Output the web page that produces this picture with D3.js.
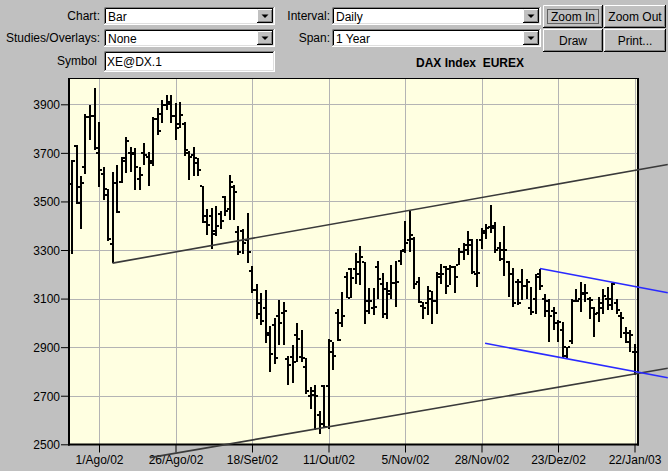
<!DOCTYPE html>
<html><head><meta charset="utf-8">
<script src="https://cdn.jsdelivr.net/npm/d3@7/dist/d3.min.js"></script>
<style>
html,body{margin:0;padding:0;background:#c0c0c0;}
svg{display:block;font-family:"Liberation Sans",Arial,sans-serif;}
</style></head>
<body>
<svg id="c" width="668" height="471"></svg>
<script>
// ---- data (OHLC, one entry per trading day) ----
const opens  = [3573,3730,3560,3643,3846,3852,3700,3612,3551,3323,3576,3580,3666,3700,3696,3594,3700,3683,3658,3840,
                3860,3897,3910,3850,3820,3820,3700,3690,3660,3562,3440,3440,3380,3450,3520,3470,3560,3375,3380,3340,
                3213,3137,3080,3060,2950,2990,3030,3040,2850,2860,2950,2860,2820,2700,2720,2620,2740,2740,2880,3040,
                3000,3190,3220,3220,3200,3250,3090,3060,3230,3160,3140,3130,3165,3255,3300,3340,3345,3170,3070,3080,
                3100,3090,3190,3230,3220,3230,3240,3290,3320,3320,3200,3340,3380,3395,3390,3310,3300,3250,3200,3170,
                3170,3150,3060,3100,3200,3100,3050,3050,3000,2970,2900,2925,3090,3100,3120,3100,3060,3040,3080,3100,
                3100,3080,3030,2960,2920,2880];
const highs  = [3672,3733,3606,3859,3897,3968,3826,3641,3553,3621,3650,3685,3767,3726,3720,3642,3740,3702,3849,3884,
                3918,3938,3938,3904,3911,3829,3706,3726,3679,3562,3470,3473,3483,3462,3524,3610,3569,3398,3385,3452,
                3235,3160,3123,3135,2987,3022,3096,3087,2864,2910,3000,2970,2855,2736,2746,2636,2744,2934,2920,3057,
                3127,3208,3225,3288,3318,3250,3145,3143,3255,3205,3168,3237,3255,3300,3419,3460,3355,3189,3086,3150,
                3131,3209,3243,3233,3237,3233,3309,3329,3378,3347,3347,3391,3409,3487,3415,3335,3398,3255,3228,3182,
                3220,3182,3148,3203,3223,3120,3100,3066,3011,3004,2902,3100,3141,3168,3162,3107,3066,3107,3141,3148,
                3165,3100,3045,2981,2970,2915];
const lows   = [3283,3488,3385,3613,3754,3713,3560,3506,3339,3246,3451,3575,3617,3620,3549,3549,3651,3565,3644,3774,
                3822,3877,3822,3754,3802,3688,3590,3603,3603,3412,3360,3303,3357,3388,3440,3425,3422,3278,3282,3247,
                3125,3018,2990,2916,2796,2832,2910,2910,2746,2753,2840,2840,2706,2644,2558,2541,2566,2563,2808,2926,
                2983,3102,3102,3162,3155,2997,3036,3034,3100,3020,3018,3100,3066,3240,3289,3292,3141,3082,3018,3031,
                2997,3038,3161,3120,3155,3123,3237,3260,3280,3200,3148,3303,3344,3371,3289,3255,3193,3107,3066,3073,
                3093,3100,3031,3038,3134,3025,2922,2970,2922,2854,2854,2915,3086,3045,3086,3018,2943,3004,3038,3052,
                3052,3038,2936,2918,2881,2786];
const closes = [3667,3492,3575,3847,3852,3720,3629,3527,3346,3576,3456,3678,3749,3699,3640,3610,3690,3665,3838,3792,
                3897,3900,3850,3804,3855,3710,3685,3678,3628,3415,3405,3364,3398,3420,3460,3580,3540,3290,3330,3290,
                3137,3036,3007,2960,2870,2855,3000,3050,2825,2840,2935,2855,2720,2705,2700,2582,2570,2925,2862,2930,
                3030,3104,3185,3250,3270,3050,3090,3065,3180,3035,3120,3165,3170,3295,3330,3360,3160,3086,3060,3130,
                3090,3200,3200,3150,3230,3190,3290,3300,3340,3210,3205,3370,3390,3400,3300,3265,3300,3200,3080,3080,
                3150,3170,3045,3190,3150,3090,3030,3040,3004,2865,2900,3092,3092,3125,3125,3095,3035,3060,3110,3075,
                3160,3055,3020,2960,2950,2880];
const tickIdx    = [6,23,40,57,74,91,108,125];
const tickLabels = ["1/Ago/02","26/Ago/02","18/Set/02","11/Out/02","5/Nov/02","28/Nov/02","23/Dez/02","22/Jan/03"];
const yTicks     = [2500,2700,2900,3100,3300,3500,3700,3900];
// trend lines: [barIndex, price] endpoints
const blackLines = [[[9,3246],[132.4,3652]], [[17.3,2445],[132.4,2813]]];
const blueLines  = [[[104,3224],[132.4,3124]], [[91.8,2916],[132.4,2774]]];

const svg = d3.select("#c");
const x = d3.scaleLinear().domain([0,125]).range([72,634.5]);
const y = d3.scaleLinear().domain([2500,3900]).range([444.3,104.3]);
const L=69, R=638, T=78, B=444.5;

// ---------- controls ----------
function sunken(g,x0,y0,w,h){
  g.append("rect").attr("x",x0).attr("y",y0).attr("width",w).attr("height",h).attr("fill","#fff");
  g.append("path").attr("d",`M${x0+0.5},${y0+h}V${y0+0.5}H${x0+w}`).attr("stroke","#808080").attr("fill","none");
  g.append("path").attr("d",`M${x0+1.5},${y0+h-1}V${y0+1.5}H${x0+w-1}`).attr("stroke","#000").attr("fill","none");
  g.append("path").attr("d",`M${x0},${y0+h-0.5}H${x0+w-0.5}V${y0}`).attr("stroke","#fff").attr("fill","none");
  g.append("path").attr("d",`M${x0+1},${y0+h-1.5}H${x0+w-1.5}V${y0+1}`).attr("stroke","#dfdfdf").attr("fill","none");
}
function raised(g,x0,y0,w,h){
  g.append("rect").attr("x",x0).attr("y",y0).attr("width",w).attr("height",h).attr("fill","#c0c0c0");
  g.append("path").attr("d",`M${x0+0.5},${y0+h}V${y0+0.5}H${x0+w}`).attr("stroke","#fff").attr("fill","none");
  g.append("path").attr("d",`M${x0},${y0+h-0.5}H${x0+w-0.5}V${y0}`).attr("stroke","#000").attr("fill","none");
  g.append("path").attr("d",`M${x0+1},${y0+h-1.5}H${x0+w-1.5}V${y0+1}`).attr("stroke","#808080").attr("fill","none");
}
function combo(x0,y0,w,h,txt){
  const g=svg.append("g");
  sunken(g,x0,y0,w,h);
  raised(g,x0+w-18,y0+2,16,h-4);
  const cx=x0+w-10, cy=y0+h/2;
  g.append("path").attr("d",`M${cx-3.5},${cy-1.5}h7l-3.5,3.5z`).attr("fill","#000");
  g.append("text").attr("x",x0+4).attr("y",y0+h-4.5).attr("font-size",12).text(txt);
}
function label(xr,yb,txt){
  svg.append("text").attr("x",xr).attr("y",yb).attr("text-anchor","end").attr("font-size",12).text(txt);
}
function button(x0,y0,w,h,txt,focus){
  const g=svg.append("g");
  raised(g,x0,y0,w,h);
  if(focus){
    g.append("rect").attr("x",x0+4.5).attr("y",y0+4.5).attr("width",w-9).attr("height",h-9)
      .attr("fill","none").attr("stroke","#000").attr("stroke-dasharray","1,1");
  }
  g.append("text").attr("x",x0+w/2).attr("y",y0+h/2+4.5).attr("text-anchor","middle").attr("font-size",12).text(txt);
}
label(100,20,"Chart:");            combo(104,7,171,18,"Bar");
label(100,42,"Studies/Overlays:"); combo(104,29,171,18,"None");
label(97,65,"Symbol");
{ const g=svg.append("g"); sunken(g,104,51,171,21);
  g.append("text").attr("x",107).attr("y",66).attr("font-size",12).text("XE@DX.1"); }
label(330,20,"Interval:");         combo(332,7,209,18,"Daily");
label(330,42,"Span:");             combo(332,29,209,18,"1 Year");
button(543,5,60,23,"Zoom In",true);
button(604,5,62,23,"Zoom Out",false);
button(543,29,60,23,"Draw",false);
button(604,29,62,23,"Print...",false);
svg.append("text").attr("x",470).attr("y",67).attr("text-anchor","middle")
  .attr("font-size",12).attr("font-weight","bold").attr("xml:space","preserve")
  .style("white-space","pre").text("DAX Index\u00a0\u00a0EUREX");

// ---------- plot ----------
svg.append("rect").attr("x",L).attr("y",T).attr("width",R-L).attr("height",B-T).attr("fill","#ffffe1");
// grid
svg.append("g").selectAll("line").data(yTicks.filter(d=>d>2500)).join("line")
  .attr("x1",L).attr("x2",R).attr("y1",d=>Math.round(y(d))+0.5).attr("y2",d=>Math.round(y(d))+0.5)
  .attr("stroke","#b4b4b4");
svg.append("g").selectAll("line").data(tickIdx).join("line")
  .attr("y1",T).attr("y2",B).attr("x1",d=>Math.round(x(d))+0.5).attr("x2",d=>Math.round(x(d))+0.5)
  .attr("stroke","#b4b4b4");

// axes
const yAxis = d3.axisLeft(y).tickValues(yTicks).tickSize(8).tickPadding(1).tickFormat(d3.format("d"));
const ya = svg.append("g").attr("transform",`translate(${L},0)`).call(yAxis);
ya.select(".domain").remove();
ya.selectAll("text").attr("font-size",12).attr("font-family","Liberation Sans, Arial, sans-serif").attr("fill","#000").attr("dy","0.36em");
ya.selectAll("line").attr("stroke","#000");
const xAxis = d3.axisBottom(x).tickValues(tickIdx).tickSize(8).tickPadding(3).tickFormat((d,i)=>tickLabels[i]);
const xa = svg.append("g").attr("transform",`translate(0,${B})`).call(xAxis);
xa.select(".domain").remove();
xa.selectAll("text").attr("font-size",12).attr("font-family","Liberation Sans, Arial, sans-serif").attr("fill","#000");
xa.selectAll("line").attr("stroke","#000");

// frame
svg.append("line").attr("x1",L).attr("x2",R+1).attr("y1",T+0.5).attr("y2",T+0.5).attr("stroke","#000");
svg.append("line").attr("x1",L).attr("x2",L).attr("y1",T).attr("y2",B+1).attr("stroke","#000").attr("stroke-width",2);
svg.append("line").attr("x1",R).attr("x2",R).attr("y1",T).attr("y2",B+1).attr("stroke","#000").attr("stroke-width",2);
svg.append("line").attr("x1",L-1).attr("x2",R+1).attr("y1",B).attr("y2",B).attr("stroke","#000").attr("stroke-width",2);

// bars
const bars = svg.append("g").attr("shape-rendering","crispEdges");
opens.forEach((o,i)=>{
  const xc=Math.round(x(i));
  bars.append("rect").attr("x",xc-1).attr("width",2)
    .attr("y",Math.round(y(highs[i]))).attr("height",Math.max(1,Math.round(y(lows[i]))-Math.round(y(highs[i]))))
    .attr("fill","#000");
  bars.append("rect").attr("x",xc-3).attr("width",2).attr("y",Math.round(y(o))-1).attr("height",2).attr("fill","#000");
  bars.append("rect").attr("x",xc+1).attr("width",2).attr("y",Math.round(y(closes[i]))-1).attr("height",2).attr("fill","#000");
});

// trend lines
const lineGen = d3.line().x(d=>x(d[0])).y(d=>y(d[1]));
svg.append("g").selectAll("path").data(blackLines).join("path")
  .attr("d",lineGen).attr("stroke","#3a3a3a").attr("stroke-width",1.6).attr("fill","none");
svg.append("g").selectAll("path").data(blueLines).join("path")
  .attr("d",lineGen).attr("stroke","#2a2aff").attr("stroke-width",1.6).attr("fill","none");
</script>
</body></html>
